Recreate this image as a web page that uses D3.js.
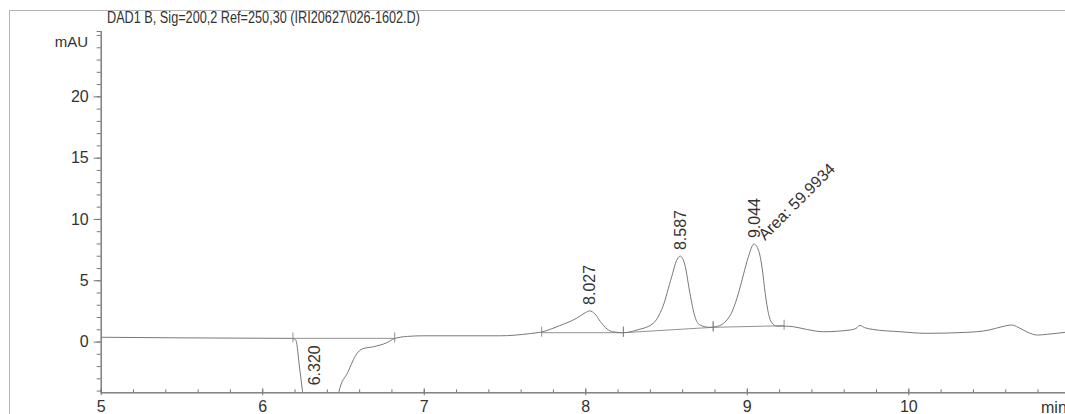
<!DOCTYPE html>
<html>
<head>
<meta charset="utf-8">
<script src="https://cdn.jsdelivr.net/npm/d3@7"></script>
<style>
  html, body { margin: 0; padding: 0; background: #fff; }
  svg { display: block; }
  text { font-family: "Liberation Sans", Arial, sans-serif; fill: #333; }
</style>
</head>
<body>
<svg id="chart" width="1065" height="414"></svg>
<script>
// ---- data (time in min, signal in mAU) ----
const title = "DAD1 B, Sig=200,2 Ref=250,30 (IRI20627\\026-1602.D)";
const yUnit = "mAU";
const xUnit = "min";
const xMajorTicks = [5, 6, 7, 8, 9, 10];
const yMajorTicks = [0, 5, 10, 15, 20];

const times = [5.00, 5.50, 6.00, 6.18, 6.20, 6.21, 6.23, 6.25, 6.27, 6.35, 6.45, 6.475, 6.53, 6.585, 6.62, 6.69, 6.77, 6.82, 6.90, 7.00,
  7.47, 7.66, 7.73, 7.84, 7.945, 8.00, 8.027, 8.06, 8.094, 8.135, 8.17, 8.236,
  8.32, 8.42, 8.48, 8.535, 8.565, 8.587, 8.617, 8.648, 8.679, 8.71, 8.77,
  8.81, 8.892, 8.954, 8.98, 9.01, 9.044, 9.072, 9.095, 9.114, 9.134, 9.155, 9.186, 9.227, 9.288,
  9.37, 9.473, 9.638, 9.676, 9.70, 9.73, 9.78, 9.95, 10.11, 10.36, 10.50, 10.58, 10.64, 10.68, 10.74, 10.80, 10.86, 10.97];
const signal = [0.35, 0.30, 0.27, 0.26, 0.20, 0.05, -2.0, -4.1, -6.0, -9.0, -6.5, -4.1, -2.5, -1.0, -0.6, -0.42, -0.1, 0.25, 0.42, 0.47,
  0.47, 0.65, 0.78, 1.29, 1.89, 2.35, 2.5, 2.25, 1.62, 1.02, 0.80, 0.72,
  0.94, 1.48, 2.84, 5.29, 6.6, 6.97, 6.24, 3.93, 2.02, 1.35, 1.16,
  1.21, 2.02, 4.2, 5.5, 6.92, 7.95, 7.46, 6.0, 3.93, 2.3, 1.53, 1.26, 1.26, 1.21,
  0.99, 0.80, 0.94, 1.07, 1.32, 1.13, 0.99, 0.80, 0.67, 0.75, 0.94, 1.21, 1.35, 1.16, 0.75, 0.53, 0.59, 0.75];

const peakTimes = [8.027, 8.587, 9.044];
const peakHeights = [2.5, 6.97, 7.95];
const peakLabels = ["8.027", "8.587", "9.044"];
const negPeakTime = 6.320;
const negPeakLabel = "6.320";
const areaLabel = "Area: 59.9934";
const areaPeakIndex = 2;

// integration baseline points [time, mAU]
const baselineTimes = [[6.19, 6.82], [7.73, 8.236], [8.236, 8.792], [8.792, 9.231]];
const baselineValues = [[0.26, 0.26], [0.72, 0.72], [0.72, 1.16], [1.16, 1.29]];

// ---- drawing ----
const svg = d3.select("#chart");
const x = d3.scaleLinear().domain([5, 10.97]).range([100.7, 1065]);
const y = d3.scaleLinear().domain([-4.14, 25.33]).range([392.3, 31]);
const lineCol = "#787878";

// frame (scan border)
svg.append("line").attr("x1", 10).attr("x2", 1065).attr("y1", 10.5).attr("y2", 10.5)
  .attr("stroke", "#b4b4b4").attr("stroke-width", 1);
svg.append("line").attr("x1", 9.5).attr("x2", 9.5).attr("y1", 10).attr("y2", 414)
  .attr("stroke", "#b4b4b4").attr("stroke-width", 1);

// title
svg.append("text").attr("x", 107).attr("y", 23.3).attr("font-size", 16)
  .attr("textLength", 313).attr("lengthAdjust", "spacingAndGlyphs").text(title);

// clip
svg.append("clipPath").attr("id", "plotClip").append("rect")
  .attr("x", x.range()[0]).attr("y", y.range()[1])
  .attr("width", x.range()[1] - x.range()[0]).attr("height", y.range()[0] - y.range()[1]);

// y axis: minor ticks
const yMinor = d3.range(-4, 26);
const gyMinor = svg.append("g").attr("transform", `translate(${x.range()[0]},0)`)
  .call(d3.axisLeft(y).tickValues(yMinor.concat([y.domain()[1]])).tickSize(4).tickFormat(""));
const gy = svg.append("g").attr("transform", `translate(${x.range()[0]},0)`)
  .call(d3.axisLeft(y).tickValues(yMajorTicks).tickSize(7).tickPadding(5).tickFormat(d3.format("d")));
[gyMinor, gy].forEach(g => {
  g.selectAll("path.domain").attr("stroke", lineCol).attr("d", `M0.5,${y.range()[0]}V${y.range()[1]}`);
  g.selectAll(".tick line").attr("stroke", lineCol);
});
gy.selectAll(".tick text").attr("font-size", 16).attr("fill", "#333")
  .attr("font-family", '"Liberation Sans", Arial, sans-serif');
svg.append("text").attr("x", 88).attr("y", 47).attr("text-anchor", "end").attr("font-size", 15).text(yUnit);

// x axis
const xMinor = d3.range(5, 11.0, 0.2).map(v => +v.toFixed(1));
const gxMinor = svg.append("g").attr("transform", `translate(0,${y.range()[0]})`)
  .call(d3.axisBottom(x).tickValues(xMinor).tickSize(-3).tickFormat(""));
const gx = svg.append("g").attr("transform", `translate(0,${y.range()[0]})`)
  .call(d3.axisBottom(x).tickValues(xMajorTicks).tickSize(-4).tickPadding(8.5).tickFormat(d3.format("d")));
[gxMinor, gx].forEach(g => {
  g.selectAll("path.domain").attr("stroke", lineCol).attr("d", `M${x.range()[0]},0.5H${x.range()[1]}`);
  g.selectAll(".tick line").attr("stroke", lineCol);
});
gx.selectAll(".tick line").attr("y2", -4).attr("y1", 3);
gx.selectAll(".tick text").attr("font-size", 16).attr("fill", "#333")
  .attr("font-family", '"Liberation Sans", Arial, sans-serif');
svg.append("text").attr("x", 1041).attr("y", 412.5).attr("font-size", 16).text(xUnit);

// plot group
const plot = svg.append("g").attr("clip-path", "url(#plotClip)");

// integration baselines
baselineTimes.forEach((seg, i) => {
  plot.append("line")
    .attr("x1", x(seg[0])).attr("x2", x(seg[1]))
    .attr("y1", y(baselineValues[i][0])).attr("y2", y(baselineValues[i][1]))
    .attr("stroke", "#858585").attr("stroke-width", 0.9);
  [0, 1].forEach(k => {
    plot.append("line")
      .attr("x1", x(seg[k])).attr("x2", x(seg[k]))
      .attr("y1", y(baselineValues[i][k]) - 6).attr("y2", y(baselineValues[i][k]) + 4)
      .attr("stroke", "#858585").attr("stroke-width", 0.9);
  });
});

// signal
const pts = times.map((t, i) => [t, signal[i]]);
plot.append("path").datum(pts)
  .attr("fill", "none").attr("stroke", lineCol).attr("stroke-width", 1)
  .attr("d", d3.line().x(d => x(d[0])).y(d => y(d[1])).curve(d3.curveMonotoneX));

// peak labels (rotated)
peakTimes.forEach((t, i) => {
  const px = x(t), py = y(peakHeights[i]) - 6;
  svg.append("text").attr("transform", `translate(${px},${py}) rotate(-90)`)
    .attr("dy", "0.36em").attr("font-size", 16).text(peakLabels[i]);
});
svg.append("text").attr("transform", `translate(${x(negPeakTime)},${y.range()[0] - 7}) rotate(-90)`)
  .attr("dy", "0.36em").attr("font-size", 16).text(negPeakLabel);

// area label
svg.append("text")
  .attr("transform", `translate(${x(peakTimes[areaPeakIndex]) + 11},${y(peakHeights[areaPeakIndex]) - 3}) rotate(-45)`)
  .attr("font-size", 16).text(areaLabel);
</script>
</body>
</html>
